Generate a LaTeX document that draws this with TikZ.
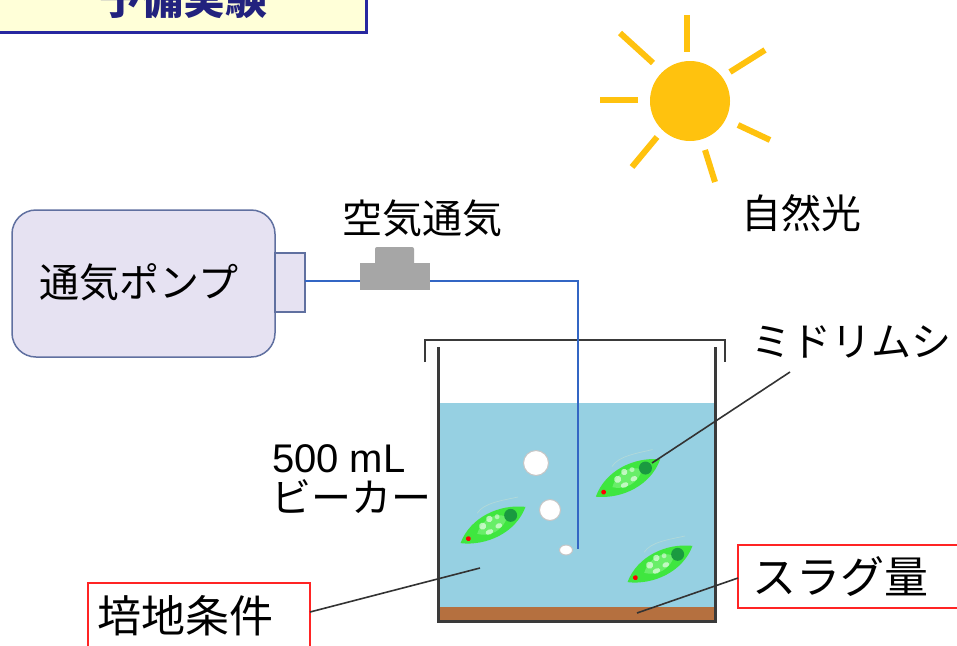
\documentclass[tikz,border=0pt]{standalone}
\usepackage{fontspec}
\usetikzlibrary{shapes.geometric}
\setmainfont{Liberation Sans}
\newfontfamily\jp{Noto Sans CJK JP}
\definecolor{titlefill}{HTML}{FFFFD8}
\definecolor{titledraw}{HTML}{2828A0}
\definecolor{titletext}{HTML}{22227E}
\definecolor{sun}{HTML}{FFC20E}
\definecolor{pumpfill}{HTML}{E6E2F2}
\definecolor{pumpdraw}{HTML}{6070A0}
\definecolor{tube}{HTML}{3366C4}
\definecolor{valve}{HTML}{A6A6A6}
\definecolor{water}{HTML}{96D0E2}
\definecolor{sediment}{HTML}{B5703F}
\definecolor{wall}{HTML}{3A3A3A}
\definecolor{lead}{HTML}{333333}
\definecolor{redline}{HTML}{FF2424}
\definecolor{eugbody}{HTML}{3FE63F}
\definecolor{euginner}{HTML}{7AF27A}
\definecolor{eugnuc}{HTML}{1A9A40}
\begin{document}
\begin{tikzpicture}[x=1pt,y=-1pt,
  every node/.style={inner sep=0pt, outer sep=0pt},
  label40/.style={font=\fontsize{40}{46}\selectfont\jp, text=black},
  label44/.style={font=\fontsize{44}{50}\selectfont\jp, text=black},
  redbox/.style={draw=redline, line width=2, fill=white},
  leader/.style={draw=lead, line width=1.6},
  ray/.style={draw=sun, line width=6},
  bubble/.style={draw=gray!45, fill=white, line width=1},
  euglena/.pic={
    % body
    \fill[eugbody] (-37,4) .. controls (-18,-16) and (14,-17) .. (37,-4)
                          .. controls (18,16) and (-14,17) .. cycle;
    \fill[euginner, opacity=0.7] (-18,2) .. controls (-8,-10) and (8,-11) .. (16,-2)
                          .. controls (8,9) and (-8,10) .. cycle;
    % pale granules
    \fill[white, opacity=0.6] (-10,-3) circle[radius=3.6];
    \fill[white, opacity=0.6] (-1,-7) circle[radius=3.2];
    \fill[white, opacity=0.6] (-6,5) ellipse[x radius=4, y radius=2.5];
    \fill[white, opacity=0.6] (5,3) ellipse[x radius=3.5, y radius=2.5];
    \fill[white, opacity=0.5] (7,-6) circle[radius=2.5];
    % nucleus and eyespot
    \fill[eugnuc] (20,-2) circle[radius=6.5];
    \fill[red] (-28,3) circle[radius=2.4];
    % flagellum
    \draw[teal!30, line width=0.7] (-10,-17) .. controls (0,-24) and (18,-19) .. (34,-16);
  }]
\useasboundingbox (0,0) rectangle (957,645);
\fill[white] (0,0) rectangle (957,645);

% title panel
\path[fill=titlefill, draw=titledraw, line width=3] (-5,-30) rectangle (366,32);
\node (title) at (183,-1) {\fontsize{42}{48}\selectfont\jp\bfseries\color{titletext}予備実験};

% sun
\fill[sun] (690,101) circle[radius=40];
\coordinate (r1a) at (687,15);  \coordinate (r1b) at (687,52);
\coordinate (r2a) at (620,33);  \coordinate (r2b) at (653,63);
\coordinate (r3a) at (600,100); \coordinate (r3b) at (638,100);
\coordinate (r4a) at (632,167); \coordinate (r4b) at (657,137);
\coordinate (r5a) at (705,150); \coordinate (r5b) at (715,182);
\coordinate (r6a) at (738,125); \coordinate (r6b) at (770,140);
\coordinate (r7a) at (730,72);  \coordinate (r7b) at (765,50);
\foreach \r in {1,...,7} { \path[ray] (r\r a) -- (r\r b); }
\node[label40] (light) at (801,213) {自然光};

% air pump
\node (pump) [draw=pumpdraw, fill=pumpfill, rounded corners=24, line width=1.5,
  minimum width=263, minimum height=147] at (143.5,283.5) {};
\node[label40] (pumplabel) at (139,282) {通気ポンプ};
\node (port) [draw=pumpdraw, fill=pumpfill, line width=1.5,
  minimum width=30, minimum height=59] at (290,282.5) {};

% beaker contents
\fill[water] (438,403) rectangle (715,610);
\fill[sediment] (438,607) rectangle (715,621);
\draw[wall, line width=3] (438,347) -- (438,621) -- (715,621) -- (715,347);
\draw[wall, line width=2.5] (425,362) -- (425,340) -- (725,340) -- (725,362);

% air line with valve
\coordinate (bend) at (578,281);
\coordinate (tubeend) at (578,549);
\draw[tube, line width=2.8] (port.east |- bend) -- (bend) -- (tubeend);
\fill[valve] (360,263) rectangle (430,290);
\fill[valve, rounded corners=2] (375,247) rectangle (414,266);
\node[label40] (airlabel) at (422,218) {空気通気};

% bubbles
\node (b1) [bubble, circle, minimum size=25] at (536,463) {};
\node (b2) [bubble, circle, minimum size=21] at (550,510) {};
\node (b3) [bubble, ellipse, minimum width=13, minimum height=10] at (566,550) {};

% euglenas
\pic[rotate=23] at (493,525) {euglena};
\pic[rotate=24] at (628,478) {euglena};
\pic[rotate=23] at (660,564) {euglena};
\coordinate (eugnucleus) at (652,463);
\node[label40] (euglabel) at (851,342) {ミドリムシ};
\coordinate (eugtip) at (790,372);
\draw[leader] (eugnucleus) -- (eugtip);

% beaker label
\node[font=\fontsize{40}{46}\selectfont, anchor=west] (vol) at (272,459) {500 mL};
\node[label40, anchor=west] (beakerlabel) at (271,497) {ビーカー};

% medium label
\node (medium) [redbox, anchor=north west, minimum width=222, minimum height=80] at (88,583) {};
\node[label44] (mediumtext) at (185,616) {培地条件};
\coordinate (mediumtip) at (310,612);
\coordinate (waterpt) at (480,568);
\draw[leader] (mediumtip) -- (waterpt);

% slag label
\node (slag) [redbox, anchor=north west, minimum width=240, minimum height=63] at (738,545) {};
\node[label44] (slagtext) at (840,577) {スラグ量};
\coordinate (slagtip) at (738,578);
\coordinate (sedpt) at (637,613);
\draw[leader] (sedpt) -- (slagtip);
\end{tikzpicture}
\end{document}
